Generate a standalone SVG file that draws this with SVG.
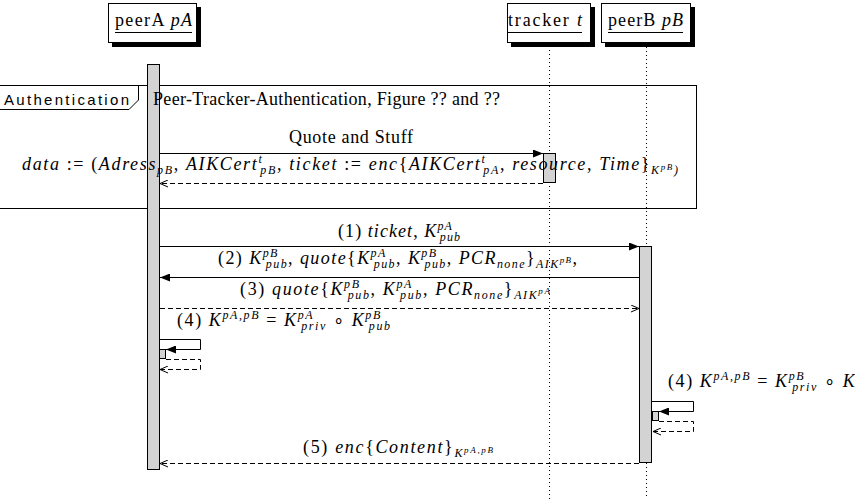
<svg xmlns="http://www.w3.org/2000/svg" width="855" height="499" viewBox="0 0 855 499">
<style>
.t{font-family:"Liberation Serif","Times New Roman",serif;font-size:18px;fill:#000}
.i{font-style:italic}
.s{font-style:italic;font-size:12px}
.ss{font-style:italic;font-size:9px}
.sans{font-family:"Liberation Sans",Arial,sans-serif;font-size:15px;fill:#000}
.ln{stroke:#000;stroke-width:1;fill:none}
.da{stroke:#000;stroke-width:1;fill:none;stroke-dasharray:5,3}
.life{stroke:#000;stroke-width:1;fill:none;stroke-dasharray:1,3}
.act{fill:#d3d3d3;stroke:#000;stroke-width:1}
.box{fill:#fff;stroke:#000;stroke-width:1}
.sh{fill:#000}
</style>
<defs>
<marker id="fa" viewBox="0 0 10 8" refX="10" refY="4" markerWidth="10" markerHeight="8" markerUnits="userSpaceOnUse" orient="auto"><path d="M0,0 L10,4 L0,8 z" fill="#000"/></marker>
<marker id="oa" viewBox="0 0 8 8" refX="8" refY="4" markerWidth="8" markerHeight="8" markerUnits="userSpaceOnUse" orient="auto"><path d="M0,0.5 L8,4 L0,7.5" fill="none" stroke="#000" stroke-width="1"/></marker>
</defs>
<rect width="855" height="499" fill="#fff"/>

<g id="frame-authentication">
<rect class="ln" x="-10" y="85.5" width="706.5" height="123"/>
<path class="ln" d="M-10,109.5 H129 L138.5,100 V85.5"/>
</g>

<g id="lifelines">
<line class="life" x1="549.5" y1="46" x2="549.5" y2="499"/>
<line class="life" x1="646.5" y1="47" x2="646.5" y2="499"/>
</g>

<g id="peerA">
<rect class="sh" x="112" y="7" width="89" height="40"/>
<rect class="box" x="108.5" y="3.5" width="88" height="39"/>
<text class="t" x="115" y="26" textLength="77">peerA <tspan class="i">pA</tspan></text>
<line class="ln" x1="115" y1="32.5" x2="192" y2="32.5"/>
<rect class="act" x="147.5" y="64.5" width="12" height="405"/>
<rect class="act" x="159.5" y="349.5" width="6" height="9"/>
</g>

<g id="tracker">
<rect class="sh" x="511" y="7" width="84" height="40"/>
<rect class="box" x="507.5" y="3.5" width="83" height="39"/>
<text class="t" x="508" y="26" textLength="74">tracker <tspan class="i">t</tspan></text>
<line class="ln" x1="508" y1="32.5" x2="582" y2="32.5"/>
<rect class="act" x="543.5" y="153.5" width="12" height="29"/>
</g>

<g id="peerB">
<rect class="sh" x="605" y="7" width="90" height="40"/>
<rect class="box" x="601.5" y="3.5" width="89" height="39"/>
<text class="t" x="608" y="26" textLength="75">peerB <tspan class="i">pB</tspan></text>
<line class="ln" x1="608" y1="32.5" x2="683" y2="32.5"/>
<rect class="act" x="639.5" y="246.5" width="12" height="216"/>
<rect class="act" x="652.5" y="411.5" width="6" height="9"/>
</g>

<g id="frame-labels">
<text class="sans" x="4" y="105" textLength="125">Authentication</text>
<text class="t" x="153" y="105" textLength="347">Peer-Tracker-Authentication, Figure ?? and ??</text>
</g>

<g id="connectors">
<line class="ln" x1="160" y1="153.5" x2="543" y2="153.5" marker-end="url(#fa)"/>
<line class="da" x1="543" y1="183.5" x2="160" y2="183.5" marker-end="url(#oa)"/>
<line class="ln" x1="160" y1="246.5" x2="639" y2="246.5" marker-end="url(#fa)"/>
<line class="ln" x1="639" y1="277.5" x2="160" y2="277.5" marker-end="url(#fa)"/>
<line class="da" x1="160" y1="308.5" x2="639" y2="308.5" marker-end="url(#oa)"/>
<path class="ln" d="M160,339.5 H200.5 V349.5 H166" marker-end="url(#fa)"/>
<path class="da" d="M166,359.5 H200.5 V369.5 H160" marker-end="url(#oa)"/>
<path class="ln" d="M652,401.5 H693.5 V411.5 H659" marker-end="url(#fa)"/>
<path class="da" d="M659,421.5 H693.5 V431.5 H653" marker-end="url(#oa)"/>
<line class="da" x1="639" y1="463.5" x2="160" y2="463.5" marker-end="url(#oa)"/>
</g>

<g id="labels">
<text class="t" x="289" y="143" textLength="124">Quote and Stuff</text>
<text class="t" x="22" y="170" textLength="656"><tspan class="i">data</tspan> := (<tspan class="i">Adress</tspan><tspan class="s" dy="4">pB</tspan><tspan dy="-4">, </tspan><tspan class="i">AIKCert</tspan><tspan class="s" dy="-7">t</tspan><tspan class="s" dx="-3" dy="11">pB</tspan><tspan dy="-4">, </tspan><tspan class="i">ticket</tspan> := <tspan class="i">enc</tspan>{<tspan class="i">AIKCert</tspan><tspan class="s" dy="-7">t</tspan><tspan class="s" dx="-3" dy="11">pA</tspan><tspan dy="-4">, </tspan><tspan class="i">resource</tspan>, <tspan class="i">Time</tspan>}<tspan class="s" dy="4">K</tspan><tspan class="ss" dy="-4">pB</tspan><tspan class="s" dy="4">)</tspan></text>
<text class="t" x="338" y="237" textLength="122">(1) <tspan class="i">ticket</tspan>, <tspan class="i">K</tspan><tspan class="s" dy="-7">pA</tspan><tspan class="s" dx="-13" dy="11">pub</tspan></text>
<text class="t" x="218" y="264" textLength="359">(2) <tspan class="i">K</tspan><tspan class="s" dy="-7">pB</tspan><tspan class="s" dx="-13" dy="11">pub</tspan><tspan dy="-4">, </tspan><tspan class="i">quote</tspan>{<tspan class="i">K</tspan><tspan class="s" dy="-7">pA</tspan><tspan class="s" dx="-13" dy="11">pub</tspan><tspan dy="-4">, </tspan><tspan class="i">K</tspan><tspan class="s" dy="-7">pB</tspan><tspan class="s" dx="-13" dy="11">pub</tspan><tspan dy="-4">, </tspan><tspan class="i">PCR</tspan><tspan class="s" dy="4">none</tspan><tspan dy="-4">}</tspan><tspan class="s" dy="4">AIK</tspan><tspan class="ss" dy="-5">pB</tspan><tspan dy="1">,</tspan></text>
<text class="t" x="240" y="295" textLength="310">(3) <tspan class="i">quote</tspan>{<tspan class="i">K</tspan><tspan class="s" dy="-7">pB</tspan><tspan class="s" dx="-13" dy="11">pub</tspan><tspan dy="-4">, </tspan><tspan class="i">K</tspan><tspan class="s" dy="-7">pA</tspan><tspan class="s" dx="-13" dy="11">pub</tspan><tspan dy="-4">, </tspan><tspan class="i">PCR</tspan><tspan class="s" dy="4">none</tspan><tspan dy="-4">}</tspan><tspan class="s" dy="4">AIK</tspan><tspan class="ss" dy="-5">pA</tspan></text>
<text class="t" x="177" y="326" textLength="213">(4) <tspan class="i">K</tspan><tspan class="s" dy="-7">pA,pB</tspan><tspan dy="7"> = </tspan><tspan class="i">K</tspan><tspan class="s" dy="-7">pA</tspan><tspan class="s" dx="-13" dy="11">priv</tspan><tspan dy="-4"> ∘ </tspan><tspan class="i">K</tspan><tspan class="s" dy="-7">pB</tspan><tspan class="s" dx="-13" dy="11">pub</tspan></text>
<text class="t" x="668" y="387" textLength="213">(4) <tspan class="i">K</tspan><tspan class="s" dy="-7">pA,pB</tspan><tspan dy="7"> = </tspan><tspan class="i">K</tspan><tspan class="s" dy="-7">pB</tspan><tspan class="s" dx="-13" dy="11">priv</tspan><tspan dy="-4"> ∘ </tspan><tspan class="i">K</tspan><tspan class="s" dy="-7">pA</tspan><tspan class="s" dx="-13" dy="11">pub</tspan></text>
<text class="t" x="303" y="453" textLength="190">(5) <tspan class="i">enc</tspan>{<tspan class="i">Content</tspan>}<tspan class="s" dy="4">K</tspan><tspan class="ss" dy="-4">pA,pB</tspan></text>
</g>
</svg>
